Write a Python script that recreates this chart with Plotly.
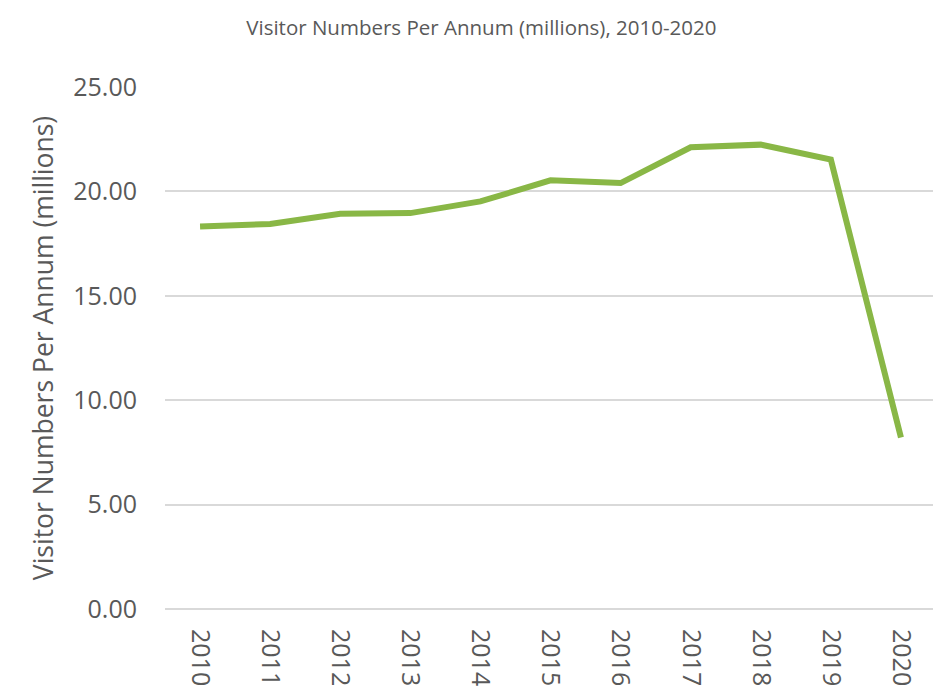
import plotly.graph_objects as go

years = ["2010", "2011", "2012", "2013", "2014", "2015", "2016", "2017", "2018", "2019", "2020"]
visitors = [18.32, 18.44, 18.93, 18.96, 19.52, 20.53, 20.40, 22.11, 22.24, 21.52, 8.21]
y_ticks = [0, 5, 10, 15, 20, 25]

fig = go.Figure()
fig.add_trace(go.Scatter(
    x=years, y=visitors, mode="lines",
    line=dict(color="#89B746", width=6),
    showlegend=False,
))

fig.update_layout(
    width=941, height=693,
    margin=dict(l=157, r=13, t=79, b=92, autoexpand=False),
    paper_bgcolor="white", plot_bgcolor="white",
    font=dict(family="Open Sans", color="#595959"),
    title=dict(
        text="Visitor Numbers Per Annum (millions), 2010-2020",
        x=0.503, xanchor="center", y=0.972, yanchor="middle",
        font=dict(family="Open Sans", size=20.5, color="#595959"),
    ),
)
fig.update_xaxes(
    type="category", range=[-0.5, 10.5], automargin=False,
    tickangle=90, tickfont=dict(size=25, color="#595959"),
    showgrid=False, showline=False, ticks="outside", ticklen=14, tickcolor="white",
)
fig.update_yaxes(
    range=[0, 25], tickvals=y_ticks, tickformat=".2f", automargin=False,
    tickfont=dict(size=25, color="#595959"),
    showgrid=True, gridcolor="#D9D9D9", gridwidth=1.5,
    zeroline=True, zerolinecolor="#D9D9D9", zerolinewidth=1.5,
    showline=False, ticks="outside", ticklen=22, tickcolor="white",
    title=dict(text="Visitor Numbers Per Annum (millions)",
               font=dict(size=26.5, color="#595959"), standoff=11),
)

fig.write_html("out.html")
